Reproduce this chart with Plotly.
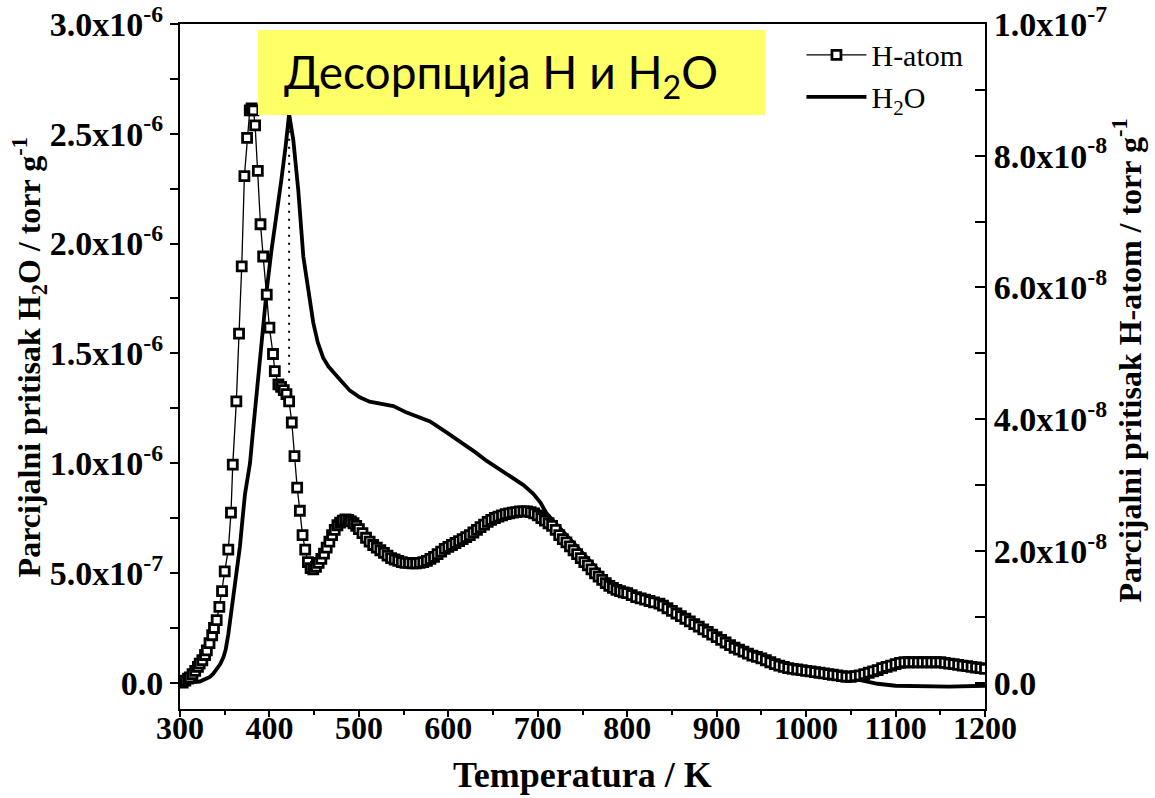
import plotly.graph_objects as go

# ---------------- data ----------------
# H-atom partial pressure (right axis), values in units of 1e-8 torr/g
hatom_T = [303, 306, 309, 311, 314, 317, 320, 322, 325, 328, 330, 333, 336, 338, 341, 344, 347, 350,
           354, 357, 359, 363, 366, 369, 372, 375, 378, 380, 382, 384, 387, 390, 393, 397, 400, 404,
           406, 410, 413, 416, 419, 422, 425, 428, 431, 434, 437, 440, 443, 446, 449, 452, 455, 458,
           461, 464, 467, 470, 473, 476, 479, 482, 485, 488, 491, 494, 497, 500,
           504, 508, 512, 516, 520, 524, 528, 532, 536, 540, 544, 548, 552, 556, 560, 564, 568, 572,
           576, 580, 584, 588, 592, 596, 600, 604, 608, 612, 616, 620, 624, 628, 632, 636, 640, 644,
           648, 652, 656, 660, 664, 668, 672, 676, 680, 684, 688, 692, 696, 700, 704, 708, 712, 716,
           720, 724, 728, 732, 736, 740, 744, 748, 752, 756, 760, 764, 768, 772, 776, 780, 784, 788,
           792, 796, 800,
           805, 810, 815, 820, 825, 830, 836, 840, 845, 850, 855, 860, 865, 870, 875, 880, 885, 890,
           895, 900, 905, 910, 915, 920, 925, 930, 935, 940, 945, 950, 955, 960, 965, 970, 975, 980,
           985, 990, 995, 1000, 1005, 1010, 1015, 1020, 1025, 1030, 1035, 1040, 1045, 1050, 1055,
           1060, 1065, 1070, 1075, 1080, 1085, 1090, 1095, 1100, 1105, 1110, 1115, 1120, 1125, 1130,
           1135, 1140, 1145, 1150, 1155, 1160, 1165, 1170, 1175, 1180, 1185, 1190, 1195, 1200]
hatom_v = [0.00, 0.03, 0.06, 0.08, 0.13, 0.18, 0.24, 0.29, 0.34, 0.42, 0.49, 0.60, 0.72, 0.83, 0.95, 1.15, 1.39, 1.69,
           2.02, 2.58, 3.31, 4.27, 5.30, 6.32, 7.69, 8.27, 8.69, 8.72, 8.69, 8.46, 7.77, 6.96, 6.47, 5.89, 5.39, 4.99,
           4.73, 4.53, 4.49, 4.44, 4.38, 4.27, 3.95, 3.44, 2.96, 2.61, 2.24, 2.02, 1.83, 1.74, 1.72, 1.76, 1.82, 1.88,
           1.96, 2.05, 2.14, 2.24, 2.32, 2.39, 2.43, 2.46, 2.48, 2.47, 2.45, 2.42, 2.38, 2.33,
           2.27, 2.20, 2.14, 2.09, 2.05, 2.01, 1.97, 1.93, 1.89, 1.87, 1.85, 1.83, 1.82, 1.82, 1.81, 1.81, 1.82, 1.83,
           1.85, 1.88, 1.91, 1.95, 1.99, 2.03, 2.06, 2.09, 2.12, 2.15, 2.18, 2.21, 2.24, 2.28, 2.32, 2.36, 2.40, 2.44,
           2.47, 2.50, 2.52, 2.54, 2.56, 2.57, 2.58, 2.59, 2.60, 2.60, 2.60, 2.59, 2.57, 2.54, 2.50, 2.46, 2.42, 2.38,
           2.32, 2.24, 2.18, 2.13, 2.07, 2.01, 1.95, 1.89, 1.83, 1.78, 1.72, 1.66, 1.61, 1.56, 1.51, 1.47, 1.44, 1.41,
           1.39, 1.37, 1.36,
           1.33, 1.30, 1.28, 1.26, 1.24, 1.22, 1.20, 1.17, 1.13, 1.09, 1.05, 1.01, 0.97, 0.93, 0.89, 0.85, 0.81, 0.77,
           0.73, 0.69, 0.65, 0.61, 0.57, 0.53, 0.50, 0.47, 0.44, 0.41, 0.39, 0.37, 0.34, 0.31, 0.28, 0.26, 0.24, 0.22,
           0.21, 0.20, 0.19, 0.18, 0.17, 0.16, 0.15, 0.14, 0.13, 0.12, 0.11, 0.10, 0.09, 0.09, 0.10,
           0.11, 0.13, 0.15, 0.17, 0.19, 0.22, 0.24, 0.26, 0.28, 0.30, 0.31, 0.31, 0.31, 0.31, 0.31,
           0.31, 0.31, 0.31, 0.31, 0.30, 0.29, 0.28, 0.27, 0.26, 0.25, 0.24, 0.23, 0.22, 0.21]

# H2O partial pressure (left axis), values in units of 1e-6 torr/g
h2o_T = [300, 304, 310, 316, 322, 328, 333, 337, 341, 345, 348.5, 351, 354, 356, 358, 361.5, 364, 367, 370,
         372.7, 375.5, 378.3, 381, 384, 387.5, 392, 397, 402, 408, 413, 418, 422, 426.7, 432.3, 437.9, 443.5,
         449, 454, 460, 466, 472, 479, 490, 501, 512, 525, 538.5, 553.5, 566, 579.5, 598, 616.7, 630, 643,
         658, 672.7, 684, 695, 703, 710, 719, 728.6, 741, 754.7, 775, 800, 836, 873, 911, 948, 985, 1023,
         1049, 1065, 1080, 1100, 1130, 1160, 1200]
h2o_v = [0.0, 0.0, 0.0, 0.003, 0.005, 0.015, 0.025, 0.04, 0.06, 0.085, 0.115, 0.15, 0.22, 0.28, 0.34, 0.43, 0.51,
         0.62, 0.75, 0.86, 0.93, 1.0, 1.12, 1.25, 1.38, 1.57, 1.79, 1.96, 2.12, 2.28, 2.44, 2.59, 2.47, 2.24,
         1.94, 1.79, 1.64, 1.55, 1.48, 1.44, 1.41, 1.38, 1.33, 1.30, 1.28, 1.27, 1.26, 1.23, 1.21, 1.19, 1.14,
         1.09, 1.05, 1.01, 0.97, 0.935, 0.90, 0.86, 0.82, 0.77, 0.73, 0.69, 0.63, 0.57, 0.48, 0.41, 0.37,
         0.28, 0.185, 0.12, 0.07, 0.045, 0.023, 0.01, -0.005, -0.014, -0.018, -0.018, -0.014]

# dotted drop line from the H2O maximum down to the H-atom shoulder
peak_T = [422, 422]
peak_line_v = [2.55, 1.40]   # 1e-6

x_ticks = [300, 400, 500, 600, 700, 800, 900, 1000, 1100, 1200]
left_tick_vals = [0, 0.5e-6, 1.0e-6, 1.5e-6, 2.0e-6, 2.5e-6, 3.0e-6]
left_tick_text = ["0.0", "5.0x10<sup>-7</sup>", "1.0x10<sup>-6</sup>", "1.5x10<sup>-6</sup>",
                  "2.0x10<sup>-6</sup>", "2.5x10<sup>-6</sup>", "3.0x10<sup>-6</sup>"]
right_tick_vals = [0, 2e-8, 4e-8, 6e-8, 8e-8, 1e-7]
right_tick_text = ["0.0", "2.0x10<sup>-8</sup>", "4.0x10<sup>-8</sup>", "6.0x10<sup>-8</sup>",
                   "8.0x10<sup>-8</sup>", "1.0x10<sup>-7</sup>"]

# ---------------- figure ----------------
SERIF = "Liberation Serif, Times New Roman, serif"

fig = go.Figure()

fig.add_trace(go.Scatter(
    x=h2o_T, y=[v * 1e-6 for v in h2o_v], name="H<sub>2</sub>O",
    mode="lines", line=dict(color="black", width=3.8), yaxis="y"))

fig.add_trace(go.Scatter(
    x=peak_T, y=[v * 1e-6 for v in peak_line_v], mode="lines", showlegend=False,
    line=dict(color="black", width=2, dash="2px,6px"), yaxis="y"))

fig.add_trace(go.Scatter(
    x=hatom_T, y=[v * 1e-8 for v in hatom_v], name="H-atom",
    mode="lines+markers", line=dict(color="black", width=1.3),
    marker=dict(symbol="square", size=9, color="white", line=dict(color="black", width=2.8)),
    yaxis="y2"))

fig.update_layout(
    width=1155, height=798,
    margin=dict(l=180, r=170, t=24, b=89, autoexpand=False),
    paper_bgcolor="white", plot_bgcolor="white",
    showlegend=True,
    legend=dict(x=0.772, y=0.993, xanchor="left", yanchor="top", bgcolor="rgba(0,0,0,0)",
                font=dict(family=SERIF, size=30, color="black"), traceorder="reversed",
                tracegroupgap=0, itemwidth=60),
    xaxis=dict(range=[300, 1200], tickvals=x_ticks, ticks="outside", ticklen=6, tickwidth=2,
               tickcolor="black", showline=True, linewidth=2, linecolor="black", mirror=True,
               showgrid=False, zeroline=False, ticklabelstandoff=-16, automargin=False,
               minor=dict(dtick=50, tick0=300, ticks="outside", ticklen=4, tickwidth=2, tickcolor="black"),
               tickfont=dict(family=SERIF, size=32, color="black", weight="bold")),
    yaxis=dict(range=[-0.12e-6, 3.0e-6], tickvals=left_tick_vals, ticktext=left_tick_text,
               ticks="outside", ticklen=8, tickwidth=2, tickcolor="black", ticklabeloverflow="allow",
               showline=True, linewidth=2, linecolor="black", showgrid=False, zeroline=False,
               automargin=False,
               minor=dict(dtick=0.25e-6, tick0=0, ticks="outside", ticklen=8, tickwidth=2, tickcolor="black"),
               tickfont=dict(family=SERIF, size=34, color="black", weight="bold")),
    yaxis2=dict(range=[-0.4e-8, 1.0e-7], overlaying="y", side="right", tickvals=right_tick_vals,
                ticktext=right_tick_text, ticks="inside", ticklen=10, tickwidth=2, tickcolor="black",
                ticklabeloverflow="allow", automargin=False,
                showline=True, linewidth=2, linecolor="black", showgrid=False, zeroline=False,
                minor=dict(dtick=1e-8, tick0=0, ticks="inside", ticklen=10, tickwidth=2, tickcolor="black"),
                tickfont=dict(family=SERIF, size=34, color="black", weight="bold")),
)

# yellow title box
fig.add_shape(type="rect", xref="paper", yref="paper", x0=0.0969, x1=0.7267, y0=0.8672, y1=0.9912,
              fillcolor="#FFFF66", line=dict(width=0), layer="above")
fig.add_annotation(xref="paper", yref="paper", x=0.3988, y=0.926, xanchor="center", yanchor="middle",
                   text="Десорпција Н и Н<sub>2</sub>О", showarrow=False,
                   font=dict(family="Lato, Noto Sans, sans-serif", size=46, color="black"))

# axis titles
fig.add_annotation(xref="paper", yref="paper", x=0.4994, y=-0.097, xanchor="center", yanchor="middle",
                   text="Temperatura / K", showarrow=False,
                   font=dict(family=SERIF, size=36, color="black", weight="bold"))
fig.add_annotation(xref="paper", yref="paper", x=-0.187, y=0.514, xanchor="center", yanchor="middle",
                   textangle=-90, text="Parcijalni pritisak H<sub>2</sub>O / torr g<sup>-1</sup>",
                   showarrow=False, font=dict(family=SERIF, size=32, color="black", weight="bold"))
fig.add_annotation(xref="paper", yref="paper", x=1.177, y=0.5095, xanchor="center", yanchor="middle",
                   textangle=-90, text="Parcijalni pritisak H-atom / torr g<sup>-1</sup>",
                   showarrow=False, font=dict(family=SERIF, size=32, color="black", weight="bold"))

fig.write_html("out.html")
